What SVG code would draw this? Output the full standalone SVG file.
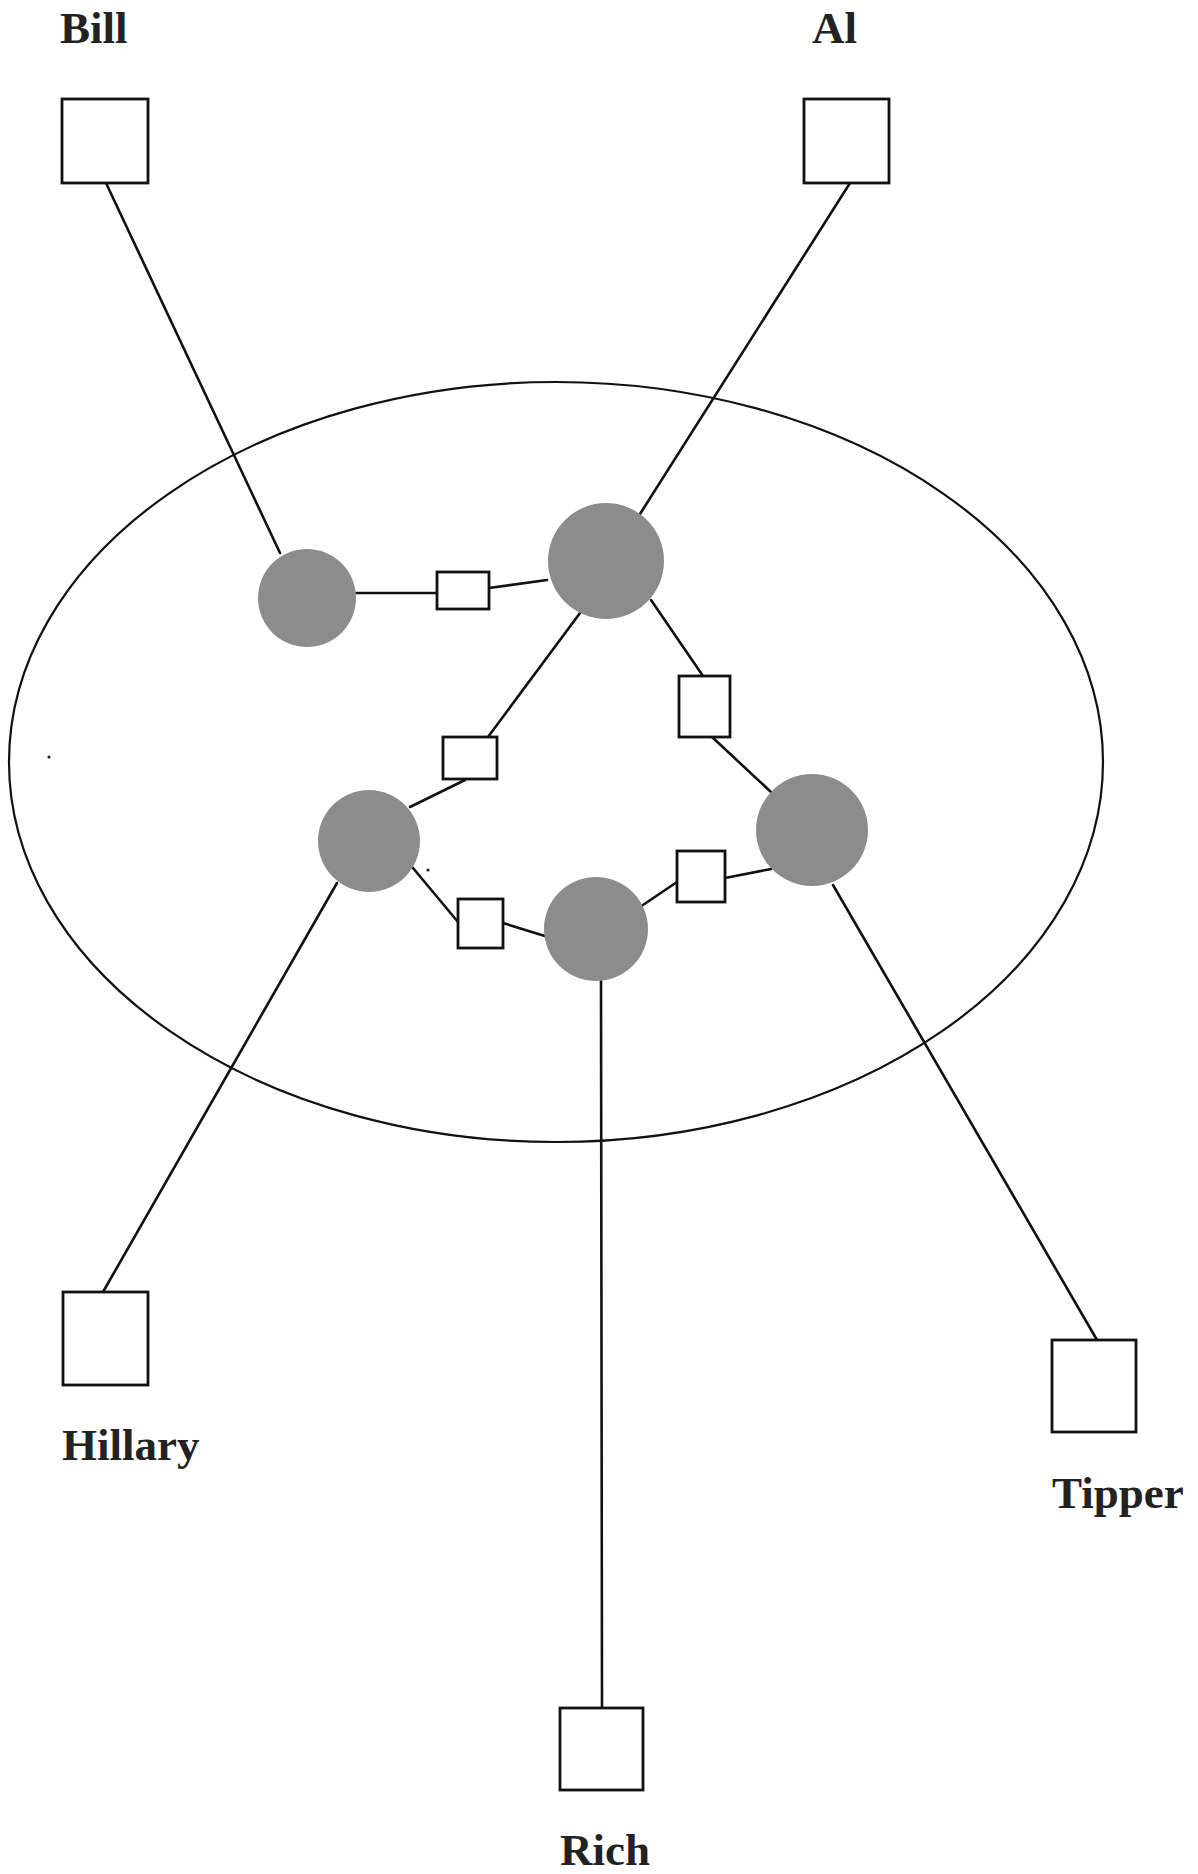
<svg xmlns="http://www.w3.org/2000/svg" width="1198" height="1874" viewBox="0 0 1198 1874">
  <style>
    .box { fill: #ffffff; stroke: #111111; stroke-width: 2.8; }
    .hub { fill: #8c8c8c; }
    .label { font-family: "Liberation Serif", "Times New Roman", serif; font-weight: bold; font-size: 45px; fill: #222222; }
    .link { stroke: #111111; stroke-width: 2.6; fill: none; stroke-linecap: round; }
    .boundary { fill: none; stroke: #111111; stroke-width: 2.2; }
    .speck { fill: #222222; }
  </style>
  <rect width="1198" height="1874" fill="#ffffff"/>

  <!-- enclosing boundary -->
  <ellipse id="boundary" class="boundary" cx="556" cy="762" rx="547" ry="380"/>

  <!-- connectors -->
  <g id="connectors">
    <line class="link" x1="106" y1="183" x2="280" y2="553"/>
    <line class="link" x1="850" y1="183" x2="640" y2="514"/>
    <line class="link" x1="356" y1="593" x2="437" y2="593"/>
    <line class="link" x1="489" y1="588" x2="547" y2="580"/>
    <line class="link" x1="580" y1="613" x2="488" y2="737"/>
    <line class="link" x1="465" y1="780" x2="410" y2="807"/>
    <line class="link" x1="413" y1="868" x2="458" y2="922"/>
    <line class="link" x1="503" y1="923" x2="548" y2="937"/>
    <line class="link" x1="640" y1="907" x2="677" y2="882"/>
    <line class="link" x1="725" y1="878" x2="771" y2="869"/>
    <line class="link" x1="651" y1="600" x2="703" y2="676"/>
    <line class="link" x1="712" y1="737" x2="771" y2="792"/>
    <line class="link" x1="833" y1="885" x2="1097" y2="1340"/>
    <line class="link" x1="337" y1="883" x2="103" y2="1292"/>
    <line class="link" x1="601" y1="981" x2="602" y2="1708"/>
  </g>

  <!-- person nodes -->
  <g id="bill">
    <rect class="box" x="62" y="99" width="86" height="84"/>
    <text class="label" x="60" y="43">Bill</text>
  </g>
  <g id="al">
    <rect class="box" x="804" y="99" width="85" height="84"/>
    <text class="label" x="812" y="43">Al</text>
  </g>
  <g id="hillary">
    <rect class="box" x="63" y="1292" width="85" height="93"/>
    <text class="label" x="62" y="1460">Hillary</text>
  </g>
  <g id="tipper">
    <rect class="box" x="1052" y="1340" width="84" height="92"/>
    <text class="label" x="1052" y="1508">Tipper</text>
  </g>
  <g id="rich">
    <rect class="box" x="560" y="1708" width="83" height="82"/>
    <text class="label" x="560" y="1865">Rich</text>
  </g>

  <!-- hub nodes -->
  <g id="hub-bill"><circle class="hub" cx="307" cy="598" r="49"/></g>
  <g id="hub-al"><circle class="hub" cx="606" cy="561" r="58"/></g>
  <g id="hub-hillary"><circle class="hub" cx="369" cy="841" r="51"/></g>
  <g id="hub-rich"><circle class="hub" cx="596" cy="929" r="52"/></g>
  <g id="hub-tipper"><circle class="hub" cx="812" cy="830" r="56"/></g>

  <!-- link nodes -->
  <g id="link-bill-al"><rect class="box" x="437" y="572" width="52" height="37"/></g>
  <g id="link-al-hillary"><rect class="box" x="443" y="737" width="54" height="42"/></g>
  <g id="link-al-tipper"><rect class="box" x="679" y="676" width="51" height="61"/></g>
  <g id="link-hillary-rich"><rect class="box" x="458" y="899" width="45" height="49"/></g>
  <g id="link-rich-tipper"><rect class="box" x="677" y="851" width="48" height="51"/></g>

  <!-- stray specks -->
  <circle class="speck" cx="49" cy="757" r="1.6"/>
  <circle class="speck" cx="428" cy="870" r="1.6"/>
</svg>
